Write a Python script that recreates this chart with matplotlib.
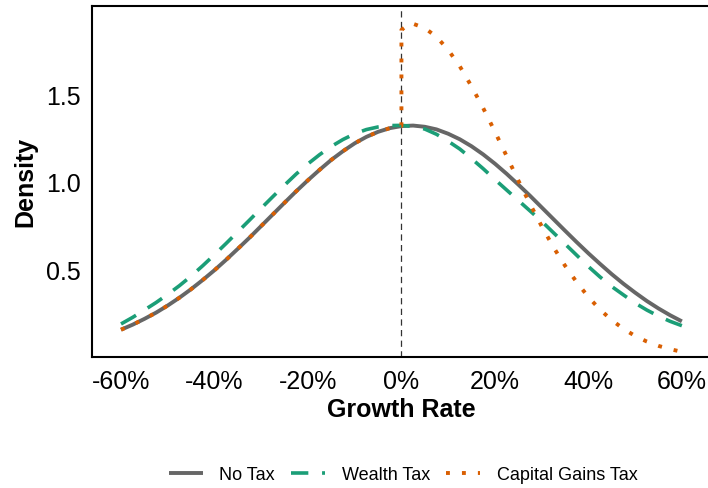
import matplotlib.pyplot as plt
import numpy as np

plt.rcParams['font.family']=['Liberation Sans','DejaVu Sans']

# growth rate grid (fraction)
x_grid=[-0.600,-0.575,-0.550,-0.525,-0.500,-0.475,-0.450,-0.425,-0.400,-0.375,-0.350,-0.325,
        -0.300,-0.275,-0.250,-0.225,-0.200,-0.175,-0.150,-0.125,-0.100,-0.075,-0.050,-0.025,
        0.000,0.025,0.050,0.075,0.100,0.125,0.150,0.175,0.200,0.225,0.250,0.275,
        0.300,0.325,0.350,0.375,0.400,0.425,0.450,0.475,0.500,0.525,0.550,0.575,0.600]
no_tax=[0.157,0.186,0.219,0.255,0.296,0.341,0.390,0.443,0.499,0.559,0.622,0.686,
        0.753,0.820,0.887,0.953,1.016,1.076,1.133,1.183,1.228,1.265,1.294,1.315,
        1.327,1.330,1.323,1.308,1.283,1.251,1.211,1.164,1.111,1.053,0.991,0.927,
        0.860,0.793,0.726,0.660,0.596,0.535,0.476,0.421,0.370,0.322,0.279,0.240,0.205]
wealth_tax=[0.190,0.228,0.270,0.313,0.360,0.410,0.465,0.525,0.588,0.653,0.720,0.787,
            0.855,0.922,0.988,1.052,1.110,1.163,1.210,1.250,1.283,1.307,1.322,1.330,
            1.331,1.325,1.310,1.280,1.240,1.195,1.140,1.082,1.020,0.960,0.900,0.840,
            0.780,0.715,0.650,0.585,0.520,0.460,0.405,0.357,0.310,0.270,0.235,0.205,0.180]
cgt_x=[-0.600,-0.575,-0.550,-0.525,-0.500,-0.475,-0.450,-0.425,-0.400,-0.375,-0.350,-0.325,
       -0.300,-0.275,-0.250,-0.225,-0.200,-0.175,-0.150,-0.125,-0.100,-0.075,-0.050,-0.025,
       0.000,0.000,0.020,0.050,0.075,0.100,0.125,0.150,0.175,0.200,0.225,0.250,0.275,
       0.300,0.325,0.350,0.375,0.400,0.425,0.450,0.475,0.500,0.525,0.550,0.575,0.600]
cgt=[0.157,0.186,0.219,0.255,0.296,0.341,0.390,0.443,0.499,0.559,0.622,0.686,
     0.753,0.820,0.887,0.953,1.016,1.076,1.133,1.183,1.228,1.265,1.294,1.315,
     1.327,1.880,1.920,1.890,1.840,1.765,1.670,1.555,1.430,1.295,1.155,1.015,0.880,
     0.752,0.632,0.525,0.430,0.345,0.272,0.212,0.162,0.121,0.089,0.064,0.045,0.030]
xticks=[-0.6,-0.4,-0.2,0.0,0.2,0.4,0.6]
xticklabels=['-60%','-40%','-20%','0%','20%','40%','60%']
yticks=[0.5,1.0,1.5]

fig=plt.figure(figsize=(7.08,4.88),dpi=100)
ax=fig.add_axes([0.130,0.2684,0.874,0.7193])

ax.axvline(0,color='#333333',lw=0.9,ls=(0,(5,3.5)),zorder=1)
ax.plot(x_grid,no_tax,color='#666666',lw=2.8,label='No Tax',zorder=2,solid_capstyle='butt')
ax.plot(x_grid,wealth_tax,color='#1B9E77',lw=2.6,ls=(0,(4.8,3.8)),label='Wealth Tax',zorder=3)
ax.plot(cgt_x,cgt,color='#D95F02',lw=2.8,ls=(0,(1,3.1)),label='Capital Gains Tax',zorder=4)

ax.set_xlim(-0.662,0.662)
ax.set_ylim(0,2.017)
ax.set_xticks(xticks)
ax.set_xticklabels(xticklabels)
ax.set_yticks(yticks)
ax.set_yticklabels(['0.5','1.0','1.5'])
ax.tick_params(axis='both',length=0,labelsize=18,colors='black')
ax.tick_params(axis='x',pad=9)
ax.tick_params(axis='y',pad=8)
for s in ['left','top','bottom','right']:
    ax.spines[s].set_linewidth(1.5)
ax.set_xlabel('Growth Rate',fontsize=18,fontweight='bold',labelpad=3)
ax.set_ylabel('Density',fontsize=18,fontweight='bold',labelpad=6)

ax.legend(loc='center',bbox_to_anchor=(403/708,1-475/488),bbox_transform=fig.transFigure,
          ncol=3,frameon=False,fontsize=13,handlelength=1.9,handletextpad=0.9,columnspacing=0.9)

plt.savefig('out.png',dpi=100)
